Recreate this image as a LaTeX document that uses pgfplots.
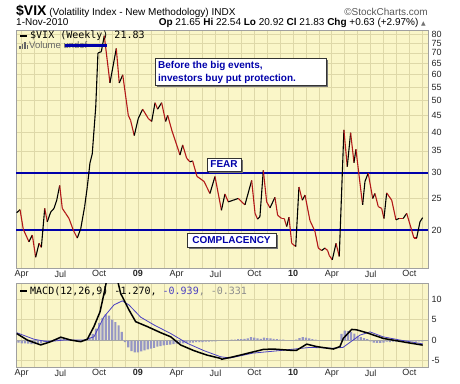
\documentclass[border=0pt]{standalone}
\usepackage{fontspec}
\setmainfont{Liberation Sans}
\newfontfamily\monofont{DejaVu Sans Mono}
\newfontfamily\dejavu{DejaVu Sans}
\usepackage{pgfplots}
\usepackage{pgfplotstable}
\pgfplotsset{compat=1.18}
\definecolor{bgy}{RGB}{250,246,200}
\definecolor{gridc}{RGB}{222,216,168}
\definecolor{vixred}{RGB}{178,24,24}
\definecolor{fblue}{RGB}{0,0,170}
\definecolor{sigblue}{RGB}{75,65,195}
\definecolor{histc}{RGB}{150,150,196}
\definecolor{frame}{RGB}{160,160,160}

\pgfplotstableread{
x y c
2.61 22.6 1
2.87 23.1 0
3.12 20.1 0
3.56 18.4 1
3.82 19.3 0
4.08 16.5 1
4.34 18.2 0
4.52 17.7 1
4.78 23.3 0
4.98 21.2 1
5.24 22.7 1
5.50 23.3 1
5.71 24.7 1
5.94 27.4 0
6.14 23.3 0
6.40 22.5 0
6.66 21.7 0
6.99 20.0 0
7.30 18.9 1
7.57 20.2 1
7.87 23.6 1
8.08 27.2 1
8.28 32.1 1
8.46 34.3 1
8.73 47.8 1
8.90 69.9 1
9.16 70.6 1
9.39 79.0 0
9.83 56.6 1
10.32 72.2 0
10.55 56.6 1
10.82 59.9 0
11.25 45.0 0
11.43 43.4 0
11.71 39.0 1
12.02 44.0 1
12.36 47.0 0
12.80 44.0 0
13.06 43.1 1
13.32 49.2 0
13.52 47.0 1
13.83 49.2 0
14.14 43.1 1
14.30 45.0 0
14.61 40.6 0
14.90 37.5 0
15.25 34.0 1
15.46 36.5 0
15.77 33.2 0
16.02 32.4 1
16.23 32.6 0
16.57 29.2 0
16.80 28.8 0
17.11 28.2 0
17.57 25.9 1
17.96 29.2 0
18.46 23.0 1
18.73 25.8 0
18.99 24.4 1
19.38 24.7 1
19.76 25.0 0
20.03 24.4 0
20.28 23.9 1
20.80 28.4 0
21.06 22.5 0
21.26 21.6 1
21.44 22.0 1
21.70 30.5 0
21.96 24.4 0
22.22 23.4 1
22.60 25.2 0
22.81 22.2 0
23.12 21.7 0
23.32 21.7 0
23.51 20.5 1
23.69 21.9 0
23.90 18.2 0
24.21 17.8 1
24.46 27.1 0
24.72 24.7 1
24.93 25.6 0
25.31 21.4 0
25.70 19.8 0
25.96 17.6 0
26.22 17.3 1
26.47 17.6 0
26.68 17.3 0
26.81 16.7 0
27.04 16.2 1
27.33 18.2 0
27.58 16.6 1
27.94 40.6 0
28.20 31.3 1
28.46 39.8 0
28.72 32.2 1
28.87 35.4 0
29.31 25.3 0
29.39 23.9 1
29.57 28.2 1
29.82 29.9 0
30.17 25.0 1
30.34 25.9 0
30.60 23.6 0
30.86 23.3 0
31.04 21.7 1
31.25 26.0 0
31.64 24.7 0
31.97 21.5 1
32.20 21.7 0
32.53 21.7 1
32.80 22.5 0
33.18 20.0 0
33.36 18.9 0
33.57 18.9 1
33.83 21.2 1
34.04 21.83 0
}\vixdata

\pgfplotstableread{
x y
2.61 1.6
3.43 0.0
4.47 -1.2
5.24 -0.4
6.02 0.7
6.79 0.0
7.57 -0.4
8.08 0.2
8.59 3.3
9.06 6.9
9.37 11.4
9.60 15.0
10.00 17.0
10.35 15.5
10.66 11.4
10.92 9.8
11.30 7.4
11.82 4.5
12.72 3.3
13.76 1.8
14.53 0.8
15.30 -1.2
16.33 -2.6
17.36 -3.7
18.40 -4.5
18.48 -4.7
19.38 -4.1
20.41 -3.3
20.92 -2.9
21.70 -2.3
22.47 -2.2
23.76 -2.5
24.28 -2.5
25.06 -1.0
25.83 -1.6
27.12 -2.2
27.63 -1.6
27.89 0.4
28.54 2.6
28.93 2.5
29.70 1.8
30.99 0.4
32.80 -0.6
33.96 -1.2
34.04 -1.27
}\macddata

\pgfplotstableread{
x y
2.61 1.8
3.95 0.2
4.98 -0.4
6.27 0.0
7.82 0.0
8.59 0.8
9.37 5.7
10.14 8.6
10.78 9.6
11.30 8.6
12.21 5.6
13.24 3.7
14.53 1.6
15.82 -0.8
17.11 -2.6
18.40 -4.1
19.12 -4.4
20.90 -3.2
23.22 -2.5
25.31 -1.8
27.09 -2.0
27.87 -1.8
29.18 1.2
29.96 2.0
30.96 0.8
32.28 0.0
34.04 -0.94
}\signaldata

\pgfplotstableread{
x h
2.75 -0.6
3.00 -0.8
3.25 -0.8
3.50 -0.9
3.75 -1.0
4.00 -1.0
4.25 -0.9
4.50 -0.8
4.75 -0.5
5.00 -0.3
5.25 -0.2
5.50 0.1
5.75 0.3
6.00 0.4
6.25 0.2
6.50 0.1
6.75 -0.1
7.00 -0.2
7.25 -0.3
7.50 -0.3
7.75 -0.1
8.00 0.1
8.25 0.6
8.50 1.5
8.75 2.8
9.00 4.2
9.25 5.4
9.50 6.3
9.75 6.0
10.00 5.0
10.25 4.4
10.50 3.6
10.75 2.0
11.00 -0.5
11.25 -1.8
11.50 -2.7
11.75 -3.0
12.00 -3.0
12.25 -2.8
12.50 -2.5
12.75 -2.3
13.00 -2.1
13.25 -1.9
13.50 -1.6
13.75 -1.5
14.00 -1.3
14.25 -1.2
14.50 -1.1
14.75 -1.0
15.00 -0.9
15.25 -0.8
15.50 -0.8
15.75 -0.7
16.00 -0.6
16.25 -0.6
16.50 -0.5
16.75 -0.5
17.00 -0.5
17.25 -0.4
17.50 -0.4
17.75 -0.3
18.00 -0.3
18.25 -0.2
18.50 -0.2
18.75 -0.1
19.00 0.0
19.25 0.1
19.50 0.1
19.75 0.2
20.00 0.2
20.25 0.3
20.50 0.4
20.75 0.7
21.00 0.6
21.25 0.4
21.50 0.3
21.75 0.6
22.00 0.5
22.25 0.4
22.50 0.3
22.75 0.2
23.00 0.1
23.25 0.1
23.50 0.0
23.75 -0.1
24.00 -0.1
24.25 0.1
24.50 0.5
24.75 0.7
25.00 0.6
25.25 0.4
25.50 0.2
25.75 0.1
26.00 0.0
26.25 -0.1
26.50 -0.1
26.75 -0.1
27.00 -0.2
27.25 -0.2
27.50 -0.1
27.75 1.5
28.00 2.3
28.25 2.2
28.50 2.0
28.75 1.6
29.00 1.0
29.25 0.7
29.50 0.5
29.75 0.2
30.00 -0.3
30.25 -0.6
30.50 -0.7
30.75 -0.7
31.00 -0.6
31.25 -0.4
31.50 -0.5
31.75 -0.4
32.00 -0.4
32.25 -0.3
32.50 -0.3
32.75 -0.2
33.00 -0.2
33.25 -0.3
33.50 -0.4
33.75 -0.3
34.00 -0.3
}\histdata

\pgfplotsset{
  panel/.style={
    width=412pt, scale only axis, anchor=south west,
    xmin=2.557, xmax=34.45,
    axis background/.style={fill=bgy},
    axis line style={frame},
    xtick={3,6,...,33},
    xticklabels={Apr,Jul,Oct,\textbf{09},Apr,Jul,Oct,\textbf{10},Apr,Jul,Oct},
    minor xtick={3,4,...,34},
    xmajorgrids, xminorgrids, ymajorgrids,
    major grid style={gridc, line width=0.6pt},
    minor grid style={gridc, line width=0.6pt},
    major tick length=0pt, minor tick length=0pt,
    yticklabel pos=right,
    tick label style={font=\fontsize{9}{9}\selectfont, text=black!85},
    xticklabel style={yshift=1pt},
  }
}

\begin{document}
\begin{tikzpicture}
\path[use as bounding box, fill=white] (0,0) rectangle (460pt,383pt);

% titles
\node[anchor=base west, inner sep=0] at (16pt,367.5pt) {{\bfseries\fontsize{14}{14}\selectfont\$VIX} {\fontsize{10}{10}\selectfont(Volatility Index - New Methodology) INDX}};
\node[anchor=base east, inner sep=0, text=black!65] at (428pt,367.5pt) {\fontsize{10}{10}\selectfont\textcopyright StockCharts.com};
\node[anchor=base west, inner sep=0] at (16pt,357pt) {\fontsize{10}{10}\selectfont 1-Nov-2010};
\node[anchor=base east, inner sep=0] at (426pt,357pt) {\fontsize{10}{10}\selectfont\textbf{Op} 21.65 \textbf{Hi} 22.54 \textbf{Lo} 20.92 \textbf{Cl} 21.83 \textbf{Chg} +0.63 (+2.97\%) {\color{black!55}\dejavu\fontsize{6}{6}\selectfont ▲}};

% main panel
\begin{axis}[panel, at={(16pt,115pt)}, height=237.5pt,
  ymode=log, ymin=15.29, ymax=82.0,
  ytick={20,25,30,35,40,45,50,55,60,65,70,75,80},
  yticklabels={20,25,30,35,40,45,50,55,60,65,70,75,80},
  colormap={updown}{color=(vixred) color=(black)},
  point meta min=0, point meta max=1,
]
\addplot[fblue, line width=2.3pt, forget plot] coordinates {(2.557,30) (34.45,30)};
\addplot[fblue, line width=2.3pt, forget plot] coordinates {(2.557,20) (34.45,20)};
\addplot[mesh, shader=flat corner, point meta=explicit, line width=1.1pt] table[x=x, y=y, meta=c] {\vixdata};
\end{axis}

% legend of main panel
\draw[black, line width=2pt] (20pt,347pt) -- (27pt,347pt);
\node[anchor=west, inner sep=0] at (30pt,347pt) {\monofont\fontsize{10}{10}\selectfont \$VIX (Weekly) 21.83};
\fill[black!60] (19pt,334pt) rectangle (20.5pt,337pt);
\fill[black!60] (21.5pt,334pt) rectangle (23pt,339pt);
\fill[black!60] (24pt,334pt) rectangle (25.5pt,341pt);
\fill[black!60] (26.5pt,334pt) rectangle (28pt,338pt);
\node[anchor=west, inner sep=0, text=black!60] at (29pt,337.5pt) {\fontsize{9.5}{9.5}\selectfont Volume undef};
\draw[fblue, line width=3pt] (65pt,337pt) -- (107pt,337pt);

% annotation boxes
\fill[black!55] (157pt,296pt) rectangle (328pt,323pt);
\filldraw[fill=white, draw=black!80, line width=0.8pt] (155pt,298pt) rectangle (326pt,325pt);
\node[anchor=base west, inner sep=0, text=fblue] at (158pt,314.5pt) {\bfseries\fontsize{10}{10}\selectfont Before the big events,};
\node[anchor=base west, inner sep=0, text=fblue] at (158pt,301pt) {\bfseries\fontsize{10}{10}\selectfont investors buy put protection.};

\fill[black!55] (209pt,210pt) rectangle (243pt,223pt);
\filldraw[fill=white, draw=black!80, line width=0.8pt] (207pt,212pt) rectangle (241pt,225pt);
\node[inner sep=0, text=fblue] at (224pt,218.5pt) {\bfseries\fontsize{10}{10}\selectfont FEAR};

\fill[black!55] (189pt,134pt) rectangle (278pt,148pt);
\filldraw[fill=white, draw=black!80, line width=0.8pt] (187pt,136pt) rectangle (276pt,150pt);
\node[inner sep=0, text=fblue] at (231.5pt,143pt) {\bfseries\fontsize{10}{10}\selectfont COMPLACENCY};

% MACD panel
\begin{axis}[panel, at={(16pt,16pt)}, height=84pt,
  ymin=-6.6, ymax=13.97,
  ytick={-5,0,5,10},
  yticklabels={-5,0,5,10},
]
\addplot[ybar, bar width=0.17, fill=histc, draw=none, forget plot] table[x=x, y=h] {\histdata};
\addplot[black!35, line width=0.6pt, forget plot] coordinates {(2.557,0) (34.45,0)};
\addplot[sigblue, line width=0.8pt] table[x=x, y=y] {\signaldata};
\addplot[black, line width=1.5pt] table[x=x, y=y] {\macddata};
\end{axis}

\draw[black, line width=2pt] (20pt,92pt) -- (27pt,92pt);
\node[anchor=west, inner sep=0] at (30pt,92pt) {\monofont\fontsize{10}{10}\selectfont MACD(12,26,9) -1.270, {\color{sigblue}-0.939}{\color{black!45}, -0.331}};
\end{tikzpicture}
\end{document}
